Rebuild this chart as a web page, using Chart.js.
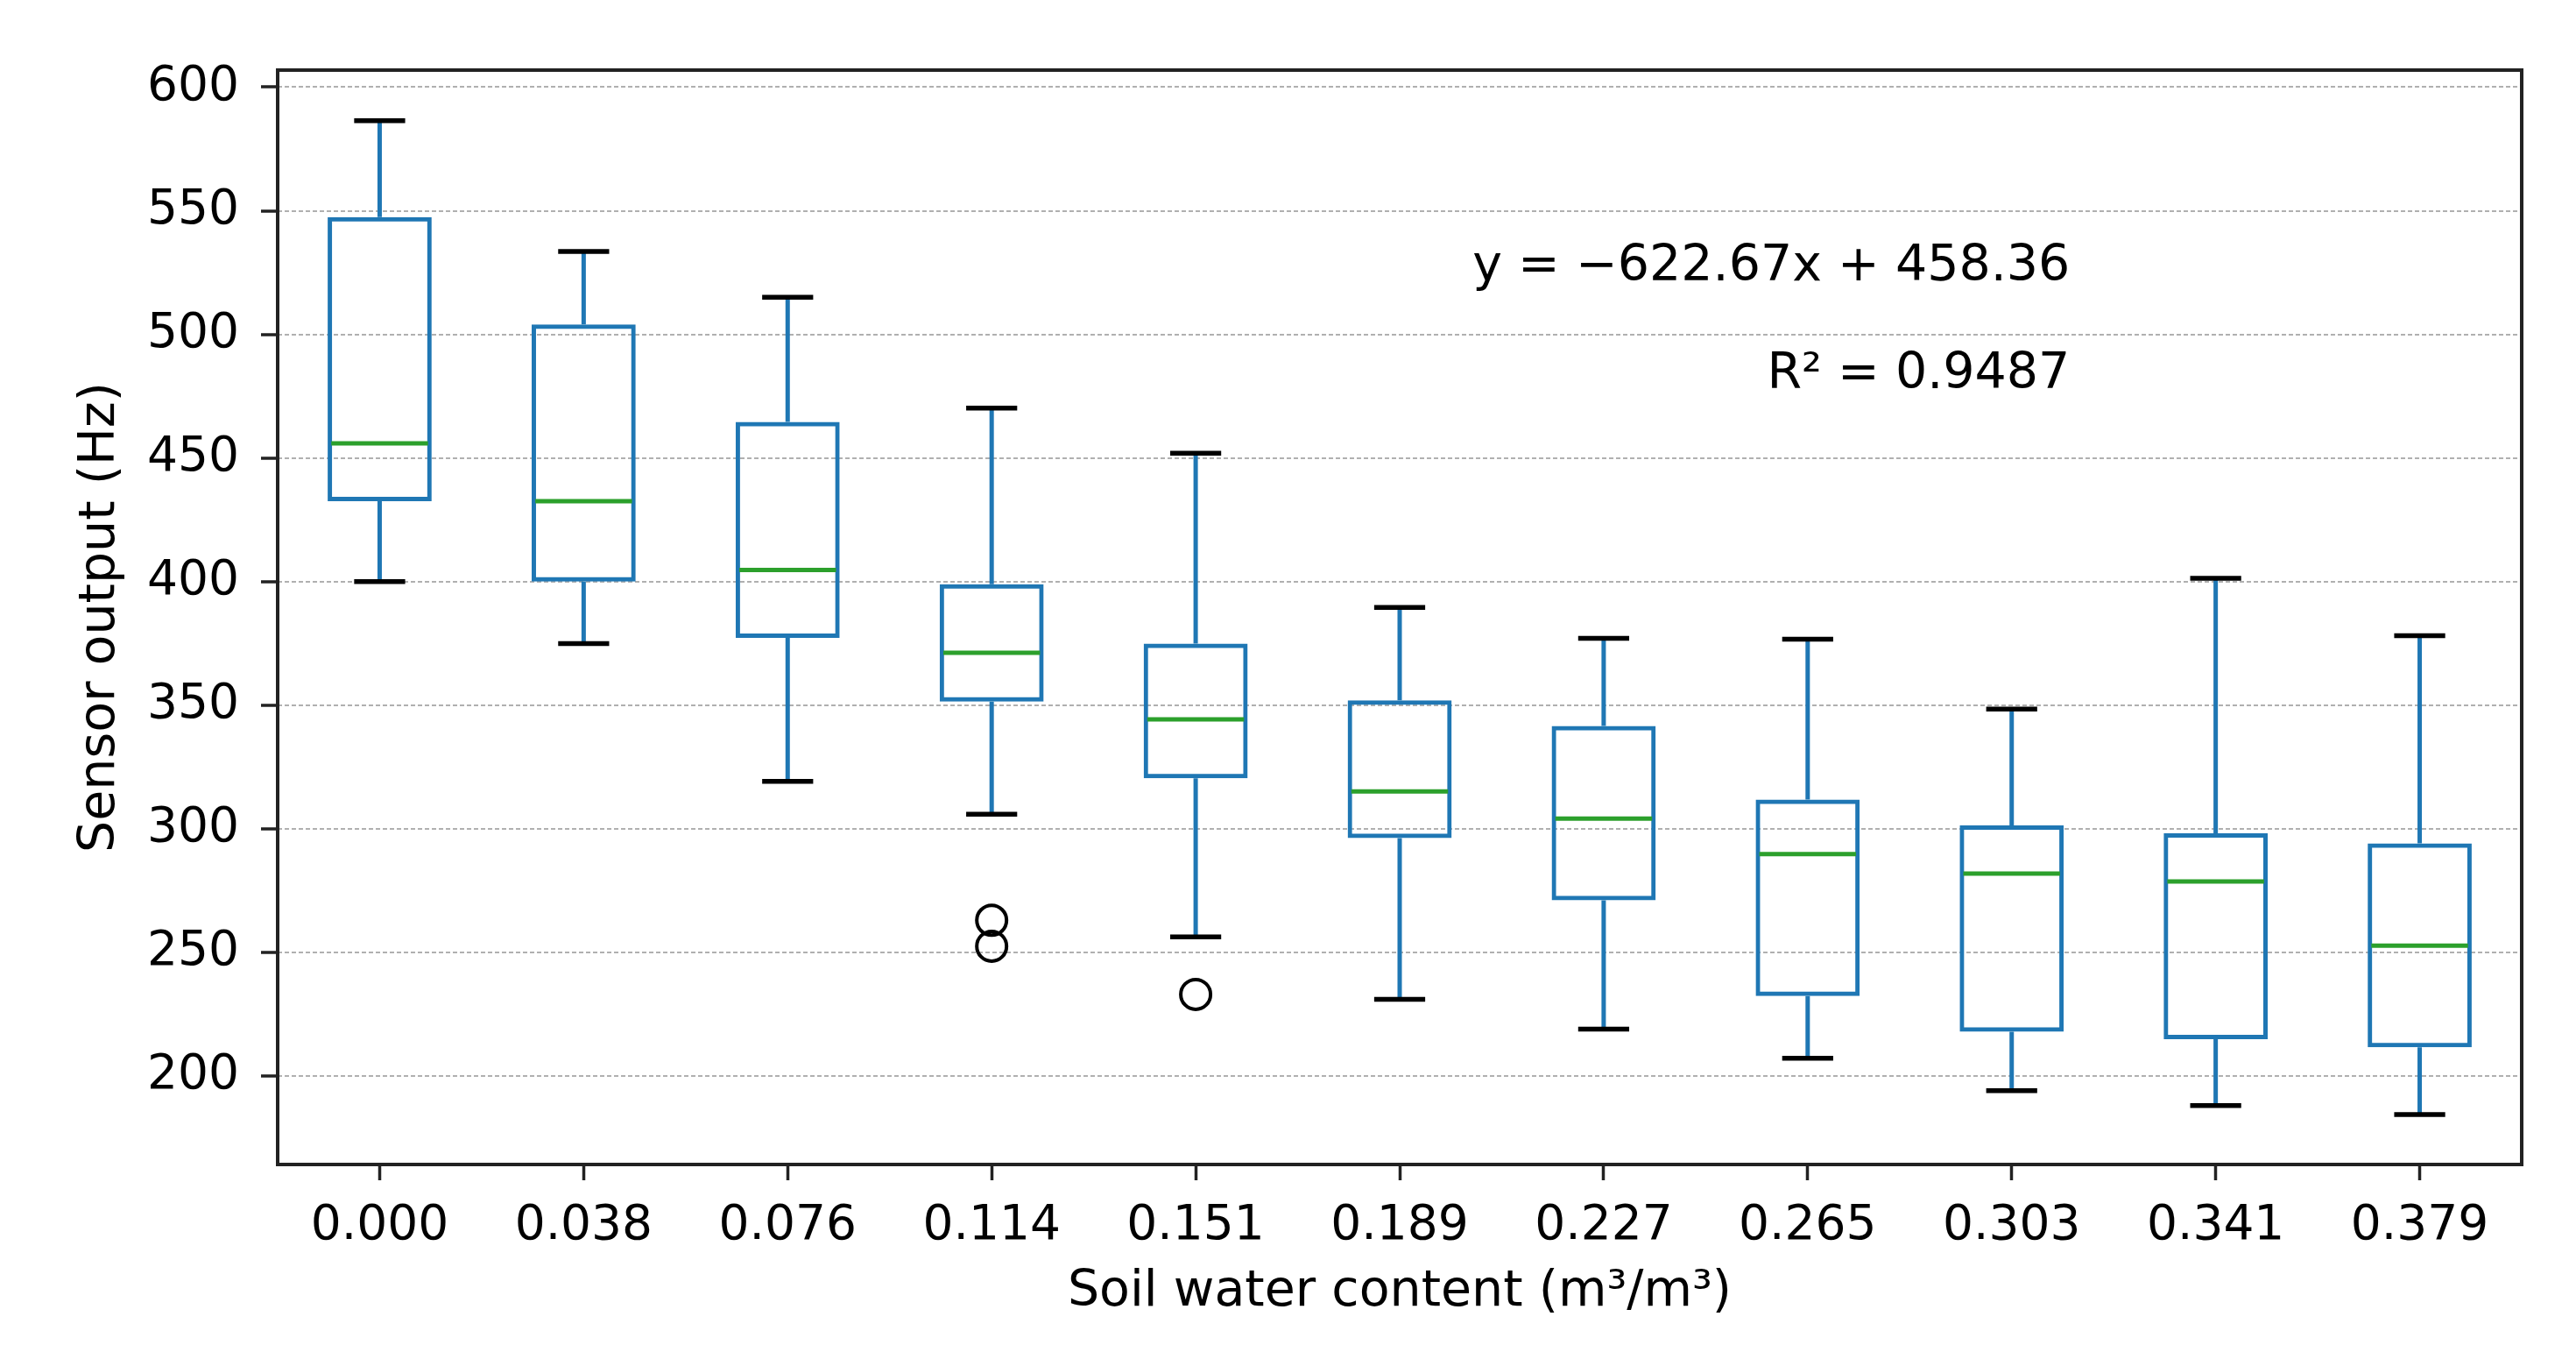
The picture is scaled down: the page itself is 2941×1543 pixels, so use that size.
<!DOCTYPE html>
<html><head><meta charset="utf-8">
<script src="https://cdn.jsdelivr.net/npm/chart.js@4.4.1/dist/chart.umd.min.js"></script>
<style>html,body{margin:0;padding:0;background:#fff;} #wrap{width:2941px;height:1543px;position:relative;}</style>
</head><body><div id="wrap"><canvas id="c"></canvas></div>
<script>
const categories = ['0.000','0.038','0.076','0.114','0.151','0.189','0.227','0.265','0.303','0.341','0.379'];
const whiskerLow  = [400.0, 374.9, 319.2, 305.9, 256.3, 231.0, 219.0, 207.2, 194.1, 188.0, 184.4];
const q1          = [432.5, 400.0, 377.2, 351.4, 320.4, 296.2, 271.1, 232.3, 217.9, 214.9, 211.6];
const medians     = [455.9, 432.5, 404.7, 371.2, 344.3, 315.1, 304.1, 289.8, 281.9, 278.7, 252.7];
const q3          = [547.4, 504.0, 464.6, 398.9, 374.9, 352.0, 341.6, 311.8, 301.4, 298.2, 294.1];
const whiskerHigh = [586.4, 533.5, 515.0, 470.2, 451.9, 389.5, 377.0, 376.7, 348.4, 401.3, 378.1];
const outlierCats = ['0.114', '0.114', '0.151'];
const outlierVals = [263, 252.5, 233];
const yTicks = [200, 250, 300, 350, 400, 450, 500, 550, 600];
const annotationLines = ['y = \u2212622.67x + 458.36', 'R\u00b2 = 0.9487'];

const FONT = "'DejaVu Sans', sans-serif";
const BLUE = '#1f77b4', GREEN = '#2ca02c', DARK = '#222222';

const boxParts = {
  id: 'boxParts',
  afterDatasetsDraw(chart) {
    const {ctx, scales: {x, y}} = chart;
    const spacing = x.getPixelForValue(1) - x.getPixelForValue(0);
    const capHalf = spacing * 0.125;
    const boxHalf = spacing * 0.25;
    ctx.save();
    ctx.lineCap = 'butt';
    categories.forEach((c, i) => {
      const cx = x.getPixelForValue(i);
      ctx.strokeStyle = BLUE; ctx.lineWidth = 5;
      ctx.beginPath();
      ctx.moveTo(cx, y.getPixelForValue(q3[i])); ctx.lineTo(cx, y.getPixelForValue(whiskerHigh[i]));
      ctx.moveTo(cx, y.getPixelForValue(q1[i])); ctx.lineTo(cx, y.getPixelForValue(whiskerLow[i]));
      ctx.stroke();
      ctx.strokeStyle = '#000'; ctx.lineWidth = 5.5;
      ctx.beginPath();
      ctx.moveTo(cx - capHalf, y.getPixelForValue(whiskerHigh[i])); ctx.lineTo(cx + capHalf, y.getPixelForValue(whiskerHigh[i]));
      ctx.moveTo(cx - capHalf, y.getPixelForValue(whiskerLow[i])); ctx.lineTo(cx + capHalf, y.getPixelForValue(whiskerLow[i]));
      ctx.stroke();
      ctx.strokeStyle = GREEN; ctx.lineWidth = 5;
      ctx.beginPath();
      ctx.moveTo(cx - boxHalf + 3, y.getPixelForValue(medians[i])); ctx.lineTo(cx + boxHalf - 3, y.getPixelForValue(medians[i]));
      ctx.stroke();
    });
    ctx.restore();
  },
  afterDraw(chart) {
    const {ctx, chartArea: a, scales: {x, y}} = chart;
    ctx.save();
    ctx.strokeStyle = DARK; ctx.lineWidth = 4;
    ctx.strokeRect(a.left, a.top, a.right - a.left, a.bottom - a.top);
    ctx.fillStyle = '#000';
    ctx.font = '57px ' + FONT;
    ctx.textAlign = 'right'; ctx.textBaseline = 'alphabetic';
    const tx = x.getPixelForValue(8.286);
    ctx.fillText(annotationLines[0], tx, y.getPixelForValue(521.8));
    ctx.fillText(annotationLines[1], tx, y.getPixelForValue(478.1));
    ctx.restore();
  }
};

new Chart(document.getElementById('c'), {
  type: 'bar',
  data: {
    labels: categories,
    datasets: [
      {
        type: 'bar',
        data: categories.map((c, i) => [q1[i], q3[i]]),
        backgroundColor: 'rgba(0,0,0,0)',
        borderColor: BLUE,
        borderWidth: 5,
        borderSkipped: false,
        barPercentage: 0.51,
        categoryPercentage: 1.0,
        order: 2
      },
      {
        type: 'line',
        data: outlierCats.map((c, i) => ({x: c, y: outlierVals[i]})),
        showLine: false,
        pointStyle: 'circle',
        pointRadius: 17,
        pointBorderWidth: 4,
        pointBorderColor: '#000',
        pointBackgroundColor: 'rgba(0,0,0,0)',
        order: 1
      }
    ]
  },
  options: {
    responsive: true,
    maintainAspectRatio: false,
    animation: false,
    devicePixelRatio: 1,
    layout: {padding: {left: 0, top: 80, right: 62, bottom: 0}},
    plugins: {legend: {display: false}, tooltip: {enabled: false}},
    scales: {
      x: {
        type: 'category',
        offset: true,
        grid: {display: true, drawOnChartArea: false, drawTicks: true, tickLength: 18, tickWidth: 3.5, tickColor: DARK, offset: false},
        border: {display: false},
        ticks: {color: '#000', font: {family: FONT, size: 55}, padding: 20, maxRotation: 0, autoSkip: false},
        title: {display: true, text: 'Soil water content (m\u00b3/m\u00b3)', color: '#000', font: {family: FONT, size: 57}, padding: {top: 0, bottom: 34}},
        afterFit(s) { s.height = 214; }
      },
      y: {
        type: 'linear',
        min: 164.2,
        max: 606.9,
        afterBuildTicks(s) { s.ticks = yTicks.map(v => ({value: v})); },
        grid: {display: true, drawOnChartArea: true, color: '#b0b0b0', lineWidth: 2, drawTicks: true, tickLength: 19, tickWidth: 3.5, tickColor: DARK, tickBorderDash: []},
        border: {display: false, dash: [5, 3]},
        ticks: {color: '#000', font: {family: FONT, size: 55}, padding: 25},
        title: {display: true, text: 'Sensor output (Hz)', color: '#000', font: {family: FONT, size: 57}, padding: {top: 81, bottom: 0}},
        afterFit(s) { s.width = 317; }
      }
    }
  },
  plugins: [boxParts]
});
</script>
</body></html>
